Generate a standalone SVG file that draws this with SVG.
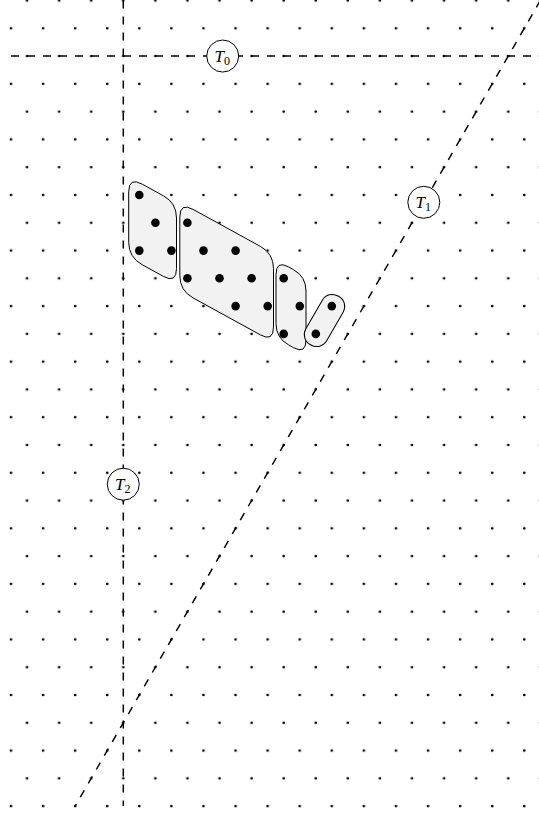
<svg xmlns="http://www.w3.org/2000/svg" width="539" height="816" viewBox="0 0 539 816">
<defs>
<pattern id="lattice" patternUnits="userSpaceOnUse" x="2.98" y="-13.39" width="32.08" height="55.56">
<circle cx="24.06" cy="13.89" r="1.35" fill="#000"/>
<circle cx="8.02" cy="41.67" r="1.35" fill="#000"/>
</pattern>
<style>
.grid{fill:url(#lattice)}
.dash{fill:none;stroke:#000;stroke-width:1.45;stroke-dasharray:8 8}
.lbl circle{fill:#fff;stroke:#000;stroke-width:1}
.lbl text{font-family:"Liberation Serif","DejaVu Serif",serif;font-size:17px;fill:#000}
.it{font-style:italic}
.sub{font-size:12px}
.blob{fill:#f2f2f2;stroke:#000;stroke-width:1}
.big{fill:#000}
</style>
</defs>
<rect width="539" height="816" fill="#fff"/>
<rect class="grid" x="0" y="-2" width="545" height="820"/>

<g id="connectors">
<path class="dash" d="M11,56.06 H548"/>
<path class="dash" d="M123.28,0.5 V806"/>
<path class="dash" d="M540.34,0.5 L75.16,806.1"/>
</g>

<g id="T0" class="lbl">
<circle cx="222.7" cy="56.06" r="16"/>
<text x="222.2" y="61.8" text-anchor="middle"><tspan class="it">T</tspan><tspan class="sub" dy="3">0</tspan></text>
</g>
<g id="T1" class="lbl">
<circle cx="423.8" cy="202.3" r="16"/>
<text x="423.3" y="208" text-anchor="middle"><tspan class="it">T</tspan><tspan class="sub" dy="3">1</tspan></text>
</g>
<g id="T2" class="lbl">
<circle cx="123.28" cy="484.2" r="16"/>
<text x="122.8" y="489.9" text-anchor="middle"><tspan class="it">T</tspan><tspan class="sub" dy="3">2</tspan></text>
</g>

<g id="groupA">
<path class="blob" d="M142.3,184.2 L163.4,195.8 Q176.5,203 176.5,218 L176.5,268.6 Q176.5,283.6 163.4,276.4 L142.3,264.8 Q128.7,257.3 128.7,242.3 L128.7,191.7 Q128.7,176.7 142.3,184.2 Z"/>
<circle class="big" cx="139.3" cy="195" r="4.3"/>
<circle class="big" cx="155.4" cy="222.8" r="4.3"/>
<circle class="big" cx="139.3" cy="250.6" r="4.3"/>
<circle class="big" cx="171.4" cy="250.6" r="4.3"/>
</g>

<g id="groupB">
<path class="blob" d="M193.1,209.4 L260.4,246.4 Q273.5,253.6 273.5,268.6 L273.5,327.1 Q273.5,342.1 260.4,334.9 L193.1,297.9 Q179.8,290.6 179.8,275.6 L179.8,217.1 Q179.8,202.1 193.1,209.4 Z"/>
<circle class="big" cx="187.4" cy="222.8" r="4.3"/>
<circle class="big" cx="203.5" cy="250.6" r="4.3"/>
<circle class="big" cx="235.6" cy="250.6" r="4.3"/>
<circle class="big" cx="187.4" cy="278.3" r="4.3"/>
<circle class="big" cx="219.5" cy="278.3" r="4.3"/>
<circle class="big" cx="251.6" cy="278.3" r="4.3"/>
<circle class="big" cx="235.6" cy="306.1" r="4.3"/>
<circle class="big" cx="267.7" cy="306.1" r="4.3"/>
</g>

<g id="groupC">
<path class="blob" d="M288.6,266.9 L293.4,269.6 Q306,276.5 306,291 L306,340 Q306,354.5 293.4,347.6 L288.6,344.9 Q276,338 276,323.5 L276,274.5 Q276,260 288.6,266.9 Z"/>
<circle class="big" cx="283.7" cy="278.3" r="4.3"/>
<circle class="big" cx="299.8" cy="306.1" r="4.3"/>
<circle class="big" cx="283.7" cy="333.9" r="4.3"/>
</g>

<g id="groupD">
<rect class="blob" x="-12" y="-28" width="24" height="56" rx="11.5" transform="translate(324.5,320.5) rotate(30)"/>
<circle class="big" cx="331.8" cy="306.1" r="4.3"/>
<circle class="big" cx="315.8" cy="333.9" r="4.3"/>
</g>
</svg>
